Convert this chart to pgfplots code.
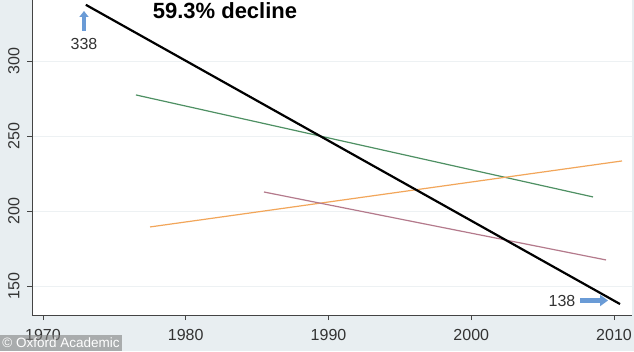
\documentclass[border=0pt]{standalone}
\usepackage{fontspec}
\setmainfont{Liberation Sans}
\usepackage{pgfplots}
\pgfplotsset{compat=1.18}
\usetikzlibrary{arrows.meta}
\definecolor{bgc}{HTML}{E8EEF1}
\definecolor{gridc}{HTML}{EDF1F3}
\definecolor{axc}{HTML}{444444}
\definecolor{labc}{HTML}{333333}
\definecolor{lgreen}{HTML}{4E9063}
\definecolor{lorange}{HTML}{F2A65A}
\definecolor{lpink}{HTML}{B47A8C}
\definecolor{arrc}{HTML}{6A9BD6}
\begin{document}
\begin{tikzpicture}[x=1pt,y=1pt]
\fill[bgc] (0,0) rectangle (634,351);
\path[use as bounding box] (0,0) rectangle (634,351);
\begin{axis}[
  at={(32pt,36pt)}, anchor=south west,
  scale only axis, width=600pt, height=315pt,
  xmin=1969.23, xmax=2011.26, ymin=130.7, ymax=340.7,
  axis x line*=bottom, axis y line*=left,
  axis line style={axc, line width=0.9pt},
  axis background/.style={fill=white},
  xtick={1970,1980,1990,2000,2010},
  ytick={150,200,250,300},
  xticklabels={1970,1980,1990,2000,2010},
  yticklabels={150,200,250,300},
  tick align=outside, major tick length=5pt,
  tick style={axc, line width=0.8pt},
  ymajorgrids, grid style={gridc, line width=0.8pt},
  ticklabel style={font=\fontsize{16}{16}\selectfont, text=labc},
  yticklabel style={rotate=90, anchor=south},
  yticklabel shift=4pt,
  xticklabel shift=6pt,
  clip=false,
]
\addplot[lgreen, line width=1.2pt] coordinates {(1976.51,277.4) (2008.53,209.4)};
\addplot[lorange, line width=1.2pt] coordinates {(1977.50,189.4) (2010.56,233.4)};
\addplot[lpink, line width=1.2pt] coordinates {(1985.48,212.7) (2009.44,167.4)};
\addplot[black, line width=2.2pt] coordinates {(1973.0,337.5) (2010.42,138)};
\end{axis}
\draw[arrc, line width=4pt, -{Triangle[length=6pt,width=9pt]}] (84,320) -- (84,340);
\node[text=labc, font=\fontsize{16}{16}\selectfont] at (84,307) {338};
\draw[arrc, line width=5pt, -{Triangle[length=8pt,width=11pt]}] (580,50.5) -- (608,50.5);
\node[text=labc, font=\fontsize{16}{16}\selectfont] at (562,50) {138};
\node[font=\fontsize{22}{22}\selectfont\bfseries] at (225,340) {59.3\% decline};
\fill[gray, opacity=0.6] (0,0) rectangle (122,16);
\node[text=white, font=\fontsize{13.5}{13.5}\selectfont] at (61,8) {© Oxford Academic};
\end{tikzpicture}
\end{document}
